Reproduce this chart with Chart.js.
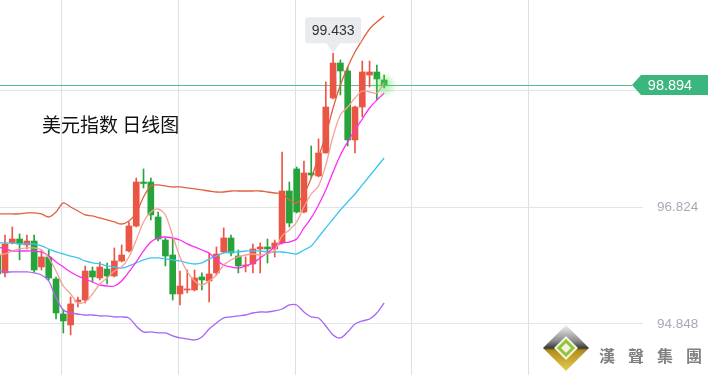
<!DOCTYPE html>
<html>
<head>
<meta charset="utf-8">
<script src="https://cdn.jsdelivr.net/npm/chart.js@4.4.1/dist/chart.umd.min.js"></script>
<style>
  html, body { margin: 0; padding: 0; background: #fff; }
  #wrap { position: relative; width: 708px; height: 375px; }
</style>
</head>
<body>
<div id="wrap"><canvas id="kline"></canvas></div>
<script>
// 美元指数 日线, one entry per daily candle
const opens = [
    96.016, 95.712, 96.220, 96.287, 96.186, 96.253, 95.813, 95.983, 95.610, 95.017,
    94.831, 95.221, 95.254, 95.745, 95.627, 95.779, 95.661, 95.915, 96.084, 96.507,
    97.252, 97.252, 96.660, 96.270, 96.016, 95.356, 95.424, 95.424, 95.644, 95.576,
    95.712, 96.067, 96.304, 95.999, 95.830, 95.864, 96.118, 96.152, 96.118, 96.220,
    97.100, 97.473, 96.744, 97.405, 97.354, 97.743, 98.675, 99.267, 99.132, 97.964,
    98.522, 99.064, 99.115, 98.979
];
const closes = [
    95.695, 96.203, 96.287, 96.203, 96.253, 95.762, 95.983, 95.627, 95.034, 94.899,
    95.187, 95.254, 95.745, 95.644, 95.813, 95.661, 95.915, 96.016, 96.507, 97.252,
    97.227, 96.694, 96.287, 95.999, 95.356, 95.491, 95.441, 95.627, 95.593, 95.695,
    96.033, 96.304, 96.050, 95.830, 95.847, 96.118, 96.152, 96.118, 96.220, 97.100,
    96.558, 96.744, 97.405, 97.371, 97.743, 98.522, 99.267, 99.132, 97.964, 98.522,
    99.115, 99.115, 98.996, 98.894
];
const highs = [
    96.067, 96.355, 96.490, 96.372, 96.355, 96.355, 96.101, 96.101, 95.644, 95.085,
    95.305, 95.305, 95.830, 95.813, 95.898, 95.881, 96.135, 96.186, 96.575, 97.320,
    97.473, 97.320, 96.744, 96.304, 96.287, 95.745, 95.762, 95.762, 95.712, 96.050,
    96.152, 96.474, 96.355, 96.101, 95.983, 96.203, 96.220, 96.287, 96.270, 97.760,
    97.252, 97.506, 97.608, 97.862, 97.981, 98.946, 99.433, 99.318, 99.200, 98.539,
    99.301, 99.301, 99.233, 99.064
];
const lows = [
    95.644, 95.644, 96.203, 95.932, 96.118, 95.729, 95.762, 95.593, 94.933, 94.696,
    94.662, 95.136, 95.204, 95.559, 95.593, 95.525, 95.644, 95.898, 96.067, 96.490,
    97.151, 96.609, 96.253, 95.830, 95.254, 95.170, 95.373, 95.407, 95.424, 95.221,
    95.678, 96.050, 95.999, 95.712, 95.729, 95.712, 95.712, 95.881, 95.983, 96.203,
    96.490, 96.728, 96.728, 97.320, 97.337, 97.743, 98.658, 98.726, 97.862, 97.743,
    98.353, 98.861, 98.641, 98.844
];

// moving averages and bollinger bands as drawn on the chart
const ma5 = [
    96.016, 96.033, 96.084, 96.118, 96.135, 96.135, 96.101, 95.966, 95.745, 95.491,
    95.356, 95.204, 95.221, 95.356, 95.525, 95.627, 95.745, 95.813, 95.983, 96.270,
    96.575, 96.744, 96.795, 96.694, 96.338, 95.983, 95.729, 95.576, 95.508, 95.576,
    95.678, 95.847, 95.932, 95.983, 96.016, 96.033, 96.016, 96.033, 96.101, 96.338,
    96.440, 96.575, 96.829, 97.049, 97.185, 97.540, 98.031, 98.387, 98.522, 98.675,
    98.793, 98.776, 98.759, 98.929
];
const ma10 = [
    96.152, 96.118, 96.084, 96.084, 96.084, 96.084, 96.067, 95.999, 95.898, 95.813,
    95.729, 95.661, 95.610, 95.559, 95.508, 95.491, 95.491, 95.576, 95.729, 95.898,
    96.084, 96.236, 96.304, 96.321, 96.304, 96.270, 96.203, 96.152, 96.101, 96.050,
    95.932, 95.847, 95.813, 95.796, 95.830, 95.881, 95.966, 96.050, 96.152, 96.220,
    96.236, 96.287, 96.474, 96.643, 96.863, 97.117, 97.422, 97.710, 97.930, 98.133,
    98.319, 98.505, 98.641, 98.759
];
const ma20 = [
    96.220, 96.220, 96.220, 96.203, 96.203, 96.203, 96.169, 96.118, 96.067, 96.033,
    95.999, 95.966, 95.915, 95.881, 95.864, 95.830, 95.813, 95.796, 95.830, 95.881,
    95.932, 95.966, 95.966, 95.949, 95.932, 95.915, 95.881, 95.864, 95.881, 95.949,
    95.999, 96.050, 96.067, 96.067, 96.084, 96.084, 96.084, 96.067, 96.067, 96.067,
    96.050, 96.033, 96.101, 96.169, 96.321, 96.474, 96.626, 96.778, 96.914, 97.049,
    97.202, 97.354, 97.506, 97.659
];
const bollUpper = [
    96.711, 96.711, 96.711, 96.711, 96.728, 96.728, 96.711, 96.660, 96.744, 96.897,
    96.829, 96.761, 96.694, 96.677, 96.643, 96.609, 96.575, 96.541, 96.592, 96.728,
    96.998, 97.185, 97.202, 97.185, 97.168, 97.168, 97.151, 97.134, 97.117, 97.100,
    97.083, 97.083, 97.100, 97.100, 97.100, 97.100, 97.100, 97.083, 97.066, 97.049,
    96.948, 96.897, 97.049, 97.320, 97.676, 98.048, 98.505, 98.895, 99.200, 99.454,
    99.657, 99.843, 99.961, 100.063
];
const bollLower = [
    95.745, 95.729, 95.729, 95.729, 95.729, 95.712, 95.678, 95.576, 95.288, 95.085,
    95.034, 95.017, 95.000, 95.000, 94.984, 94.984, 94.967, 94.967, 94.950, 94.814,
    94.713, 94.713, 94.696, 94.696, 94.645, 94.611, 94.594, 94.577, 94.628, 94.764,
    94.865, 94.950, 94.967, 94.984, 95.000, 95.034, 95.051, 95.051, 95.068, 95.102,
    95.170, 95.170, 95.051, 94.967, 94.950, 94.814, 94.662, 94.611, 94.713, 94.848,
    94.899, 94.933, 95.034, 95.204
];

const yTicks = [94.848, 96.824, 98.800];
const xGridTicks = [8.8, 24.8, 40.8, 56.8, 72.8];
const lastPrice = 98.894;
const titleText = '美元指数 日线图';
const logoText = ['漢', '聲', '集', '團'];

const UP = '#eb5546';
const DOWN = '#27a33b';

// helpers to turn the arrays into chart points
const toPoints = (arr) => arr.map((v, i) => ({ x: i, y: v }));
const candleColor = (i) => (closes[i] >= opens[i] ? UP : DOWN);

const wickData = lows.map((lo, i) => ({ x: i, y: [lo, highs[i]] }));
const bodyData = opens.map((o, i) => ({ x: i, y: [o, closes[i]] }));
const colors = opens.map((o, i) => candleColor(i));

function lineSet(label, data, color) {
    return {
        type: 'line',
        label,
        data: toPoints(data),
        borderColor: color,
        borderWidth: 1.3,
        pointRadius: 0,
        tension: 0.3,
        fill: false,
        order: 0,
    };
}

// Draw a left-pointing price tag
function drawPriceTag(ctx, y, text) {
    ctx.save();
    ctx.fillStyle = '#3bb67e';
    ctx.beginPath();
    ctx.moveTo(632, y);
    ctx.lineTo(641, y - 10);
    ctx.lineTo(708, y - 10);
    ctx.lineTo(708, y + 10);
    ctx.lineTo(641, y + 10);
    ctx.closePath();
    ctx.fill();
    ctx.fillStyle = '#fff';
    ctx.font = '14.5px "Liberation Sans", Arial, sans-serif';
    ctx.textAlign = 'center';
    ctx.textBaseline = 'middle';
    ctx.fillText(text, 670, y + 1);
    ctx.restore();
}

// Tooltip-like bubble above the highest high
function drawPeakBubble(ctx, x, yHigh, text) {
    const boxBottom = yHigh - 10;
    const w = 56, h = 26;
    ctx.save();
    ctx.fillStyle = '#e9ebee';
    ctx.beginPath();
    ctx.roundRect(x - w / 2, boxBottom - h, w, h, 3);
    ctx.fill();
    ctx.beginPath();
    ctx.moveTo(x - 7, boxBottom);
    ctx.lineTo(x + 7, boxBottom);
    ctx.lineTo(x, yHigh - 1);
    ctx.closePath();
    ctx.fill();
    ctx.fillStyle = '#333';
    ctx.font = '14px "Liberation Sans", Arial, sans-serif';
    ctx.textAlign = 'center';
    ctx.textBaseline = 'middle';
    ctx.fillText(text, x, boxBottom - h / 2 + 1);
    ctx.restore();
}

function drawLogo(ctx) {
    const cx = 566, cy = 348, r = 23;
    ctx.save();
    const grad = ctx.createLinearGradient(cx, cy - r, cx, cy + r);
    grad.addColorStop(0, '#f2f2f2');
    grad.addColorStop(0.35, '#8a8a8a');
    grad.addColorStop(0.5, '#3a3a3a');
    grad.addColorStop(0.55, '#b08d1a');
    grad.addColorStop(1, '#e8cc52');
    ctx.fillStyle = grad;
    ctx.beginPath();
    ctx.moveTo(cx, cy - r); ctx.lineTo(cx + r, cy); ctx.lineTo(cx, cy + r); ctx.lineTo(cx - r, cy);
    ctx.closePath();
    ctx.fill();
    const ri = 12;
    ctx.fillStyle = '#f6f2dc';
    ctx.beginPath();
    ctx.moveTo(cx, cy - ri); ctx.lineTo(cx + ri, cy); ctx.lineTo(cx, cy + ri); ctx.lineTo(cx - ri, cy);
    ctx.closePath();
    ctx.fill();
    ctx.strokeStyle = '#8cc63e';
    ctx.lineWidth = 3;
    const rg = 7;
    ctx.beginPath();
    ctx.moveTo(cx, cy - rg); ctx.lineTo(cx + rg, cy); ctx.lineTo(cx, cy + rg); ctx.lineTo(cx - rg, cy);
    ctx.closePath();
    ctx.stroke();

    ctx.fillStyle = '#808080';
    ctx.font = 'bold 16px "Noto Sans CJK TC", sans-serif';
    ctx.textBaseline = 'alphabetic';
    logoText.forEach((ch, k) => ctx.fillText(ch, 599 + k * 29, 362));
    ctx.restore();
}

const decorPlugin = {
    id: 'decor',
    beforeDatasetsDraw(chart) {
        const { ctx, scales: { y } } = chart;
        const py = Math.round(y.getPixelForValue(lastPrice)) + 0.5;
        ctx.save();
        ctx.strokeStyle = '#4fc486';
        ctx.lineWidth = 1;
        ctx.beginPath();
        ctx.moveTo(0, py);
        ctx.lineTo(632, py);
        ctx.stroke();

        ctx.fillStyle = '#111';
        ctx.font = '19px "Noto Sans CJK SC", sans-serif';
        ctx.textBaseline = 'alphabetic';
        ctx.fillText(titleText, 42, 132);
        ctx.restore();
    },
    afterDatasetsDraw(chart) {
        const { ctx, scales: { x, y } } = chart;
        // glow on the latest candle
        const last = closes.length - 1;
        const gx = x.getPixelForValue(last);
        const gy = y.getPixelForValue(closes[last]);
        ctx.save();
        const glow = ctx.createRadialGradient(gx, gy, 0, gx, gy, 13);
        glow.addColorStop(0, 'rgba(90, 220, 90, 0.55)');
        glow.addColorStop(1, 'rgba(90, 220, 90, 0)');
        ctx.fillStyle = glow;
        ctx.beginPath();
        ctx.arc(gx, gy, 13, 0, Math.PI * 2);
        ctx.fill();
        ctx.restore();

        // bubble on the highest high
        let peak = 0;
        highs.forEach((h, i) => { if (h > highs[peak]) peak = i; });
        drawPeakBubble(ctx, x.getPixelForValue(peak), y.getPixelForValue(highs[peak]), highs[peak].toFixed(3));
    },
    afterDraw(chart) {
        const { ctx, scales: { y } } = chart;
        drawPriceTag(ctx, Math.round(y.getPixelForValue(lastPrice)), lastPrice.toFixed(3));
        drawLogo(ctx);
    },
};

new Chart(document.getElementById('kline'), {
    type: 'bar',
    data: {
        datasets: [
            lineSet('BOLL UP', bollUpper, '#e2603f'),
            lineSet('MA5', ma5, '#f7a093'),
            lineSet('MA10', ma10, '#ff2cf5'),
            lineSet('MA20', ma20, '#3cc6ef'),
            lineSet('BOLL DN', bollLower, '#a765f5'),
            {
                label: 'body',
                data: bodyData,
                backgroundColor: colors,
                barThickness: 6,
                minBarLength: 1,
                grouped: false,
                borderWidth: 0,
                order: 1,
            },
            {
                label: 'wick',
                data: wickData,
                backgroundColor: colors,
                barThickness: 1,
                grouped: false,
                borderWidth: 0,
                order: 2,
            },
        ],
    },
    options: {
        responsive: true,
        maintainAspectRatio: false,
        animation: false,
        layout: { padding: 0 },
        plugins: {
            legend: { display: false },
            tooltip: { enabled: false },
        },
        scales: {
            x: {
                type: 'linear',
                min: 0.316,
                max: 88.5,
                offset: false,
                grid: { color: '#dedee3', drawTicks: false, offset: false },
                border: { display: false },
                ticks: { display: false },
                afterBuildTicks: (scale) => { scale.ticks = xGridTicks.map((v) => ({ value: v })); },
                afterFit: (scale) => { scale.height = 0; scale.paddingLeft = 0; scale.paddingRight = 0; },
            },
            y: {
                position: 'right',
                min: 93.984,
                max: 100.334,
                grid: { color: '#e3e3e8', drawTicks: false },
                border: { display: false },
                ticks: {
                    padding: 14,
                    color: '#a9a9b8',
                    font: { size: 13.5, family: '"Liberation Sans", Arial, sans-serif' },
                    callback: (v) => v.toFixed(3),
                },
                afterBuildTicks: (scale) => { scale.ticks = yTicks.map((v) => ({ value: v })); },
                afterFit: (scale) => { scale.width = 65; scale.paddingTop = 0; scale.paddingBottom = 0; },
            },
        },
    },
    plugins: [decorPlugin],
});
</script>
</body>
</html>
